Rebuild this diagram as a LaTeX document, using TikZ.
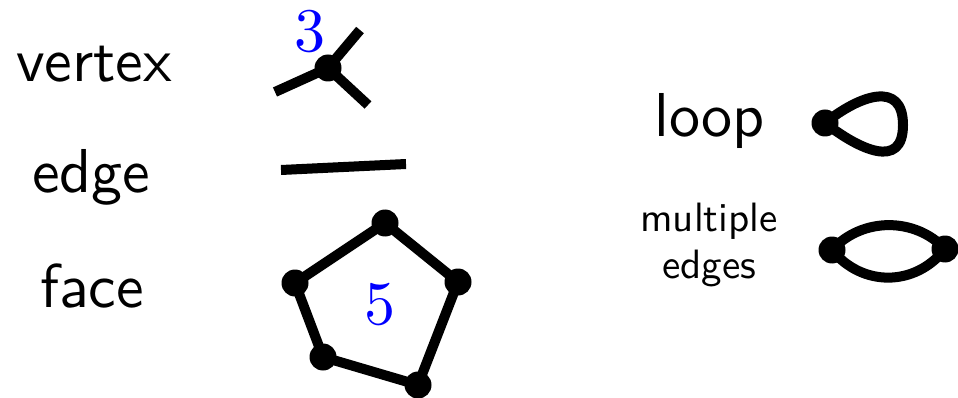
\documentclass[tikz,border=0pt]{standalone}
\usepackage{xcolor}
\definecolor{numblue}{RGB}{0,0,255}
\font\lmsansbig="[lmsans10-regular.otf]" at 62pt
\font\lmsanssmall="[lmsans10-regular.otf]" at 41pt
\font\lmrombig="[lmroman10-regular.otf]" at 62pt
\begin{document}
\begin{tikzpicture}[x=1pt,y=-1pt,
  dot/.style={circle,fill=black,inner sep=0pt,minimum size=27pt},
  thick line/.style={line width=10pt,line join=round},
  label text/.style={font=\lmsansbig,inner sep=0pt,anchor=base west},
  small text/.style={font=\lmsanssmall,inner sep=0pt,anchor=base},
  number/.style={text=numblue,font=\lmrombig,inner sep=0pt}]
\useasboundingbox (0,0) rectangle (958,398);
% labels
\node[label text] (tvertex) at (16,82) {vertex};
\node[label text] (tedge) at (32,193) {edge};
\node[label text] (tface) at (40,307) {face};
\node[label text] (tloop) at (654,137) {loop};
\node[small text] (tmult1) at (709,232) {multiple};
\node[small text] (tmult2) at (709,278) {edges};
% vertex of degree 3
\coordinate (va) at (275,92);
\coordinate (vb) at (360,30);
\coordinate (vc) at (368,105);
\node[dot] (v0) at (328,68) {};
\draw[thick line] (va) -- (v0.center) -- (vb);
\draw[thick line] (v0.center) -- (vc);
\node[number] (n3) at (310,32) {3};
% edge
\coordinate (e1) at (281,170);
\coordinate (e2) at (406,164);
\draw[thick line] (e1) -- (e2);
% pentagon face
\node[dot] (p1) at (385,223) {};
\node[dot] (p2) at (458,282) {};
\node[dot] (p3) at (418,385) {};
\node[dot] (p4) at (323,357) {};
\node[dot] (p5) at (295,283) {};
\draw[thick line] (p1.center) -- (p2.center) -- (p3.center) -- (p4.center) -- (p5.center) -- cycle;
\node[number] (n5) at (380,305) {5};
% loop
\node[dot] (l0) at (825,123) {};
\draw[thick line] (l0.center) .. controls (860,95) and (903,80) .. (903,125) .. controls (903,170) and (860,150) .. (l0.center);
% multiple edges
\node[dot] (m1) at (832,250) {};
\node[dot] (m2) at (945,249) {};
\draw[thick line] (m1.center) .. controls (862,217) and (915,217) .. (m2.center);
\draw[thick line] (m1.center) .. controls (862,287) and (915,287) .. (m2.center);
\end{tikzpicture}
\end{document}
